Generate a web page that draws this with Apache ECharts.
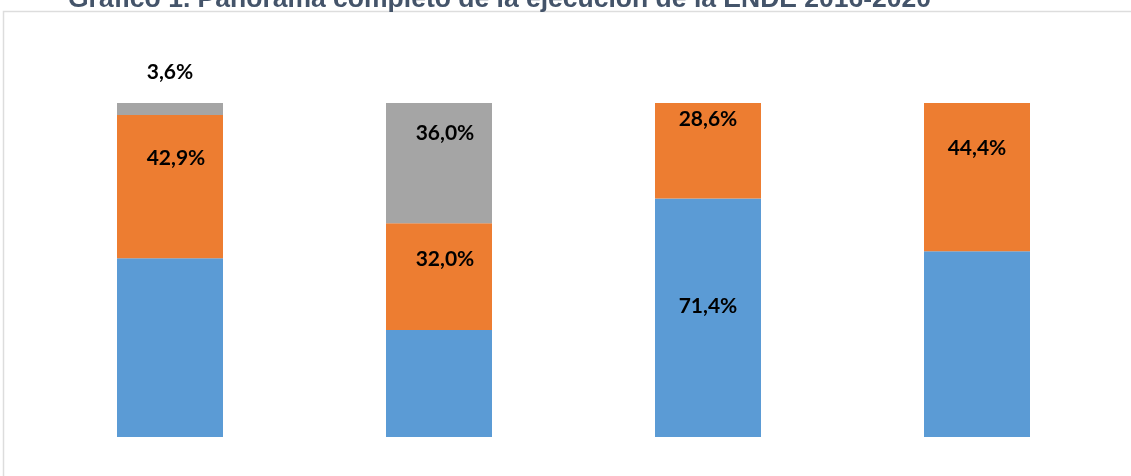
<!DOCTYPE html>
<html>
<head>
<meta charset="utf-8">
<script src="https://cdn.jsdelivr.net/npm/echarts@6/dist/echarts.min.js"></script>
<style>
  html, body { margin: 0; padding: 0; background: #fff; }
  #chart { width: 1131px; height: 476px; }
</style>
</head>
<body>
<div id="chart"></div>
<script>
// data
const categories = ['A', 'B', 'C', 'D']
const blueValues = [53.5, 32.0, 71.4, 55.6]
const orangeValues = [42.9, 32.0, 28.6, 44.4]
const grayValues = [3.6, 36.0, 0, 0]
// which labels are printed in the original
const blueShown = [false, false, true, false]
const orangeShown = [true, true, true, true]
const grayShown = [true, true, false, false]

// manual label nudges (the source had hand-placed labels)
const blueShift = [[0, 0], [0, 0], [0, -12], [0, 0]]
const orangeShift = [[6, -28], [6, -17], [0, -32], [0, -29]]
const grayShift = [[0, -37], [6, -30], [0, 0], [0, 0]]

const fmt = p => p.value.toFixed(1).replace('.', ',') + '%'

function items(values, shown, shift) {
  return values.map((v, i) => ({
    value: v,
    label: { show: shown[i], offset: shift[i] }
  }))
}

function makeSeries(name, color, values, shown, shift) {
  return {
    name: name,
    type: 'bar',
    stack: 'total',
    barWidth: 106,
    itemStyle: { color: color },
    label: {
      position: 'inside',
      formatter: fmt,
      color: '#000',
      fontFamily: 'Lato',
      fontWeight: 'bold',
      fontSize: 21
    },
    emphasis: { disabled: true },
    data: items(values, shown, shift)
  }
}

const chart = echarts.init(document.getElementById('chart'), null, { renderer: 'canvas' })
chart.setOption({
  animation: false,
  title: {
    text: 'Gráfico 1. Panorama completo de la ejecución de la ENDE 2016-2020',
    left: 63,
    top: -19,
    textStyle: {
      fontFamily: 'Liberation Sans',
      fontWeight: 'bold',
      fontSize: 26.5,
      color: '#44546A'
    }
  },
  graphic: [
    {
      type: 'polyline',
      shape: { points: [[3.5, 480], [3.5, 11.5], [1131, 11.5]] },
      style: { stroke: '#DDDDDD', lineWidth: 1.5, fill: null },
      z: 1
    }
  ],
  grid: { left: 35.5, right: 19.5, top: 103, bottom: 39 },
  xAxis: {
    type: 'category',
    data: categories,
    show: false
  },
  yAxis: {
    type: 'value',
    min: 0,
    max: 100,
    show: false
  },
  series: [
    makeSeries('Azul', '#5B9BD5', blueValues, blueShown, blueShift),
    makeSeries('Naranja', '#ED7D31', orangeValues, orangeShown, orangeShift),
    makeSeries('Gris', '#A5A5A5', grayValues, grayShown, grayShift)
  ]
})
</script>
</body>
</html>
